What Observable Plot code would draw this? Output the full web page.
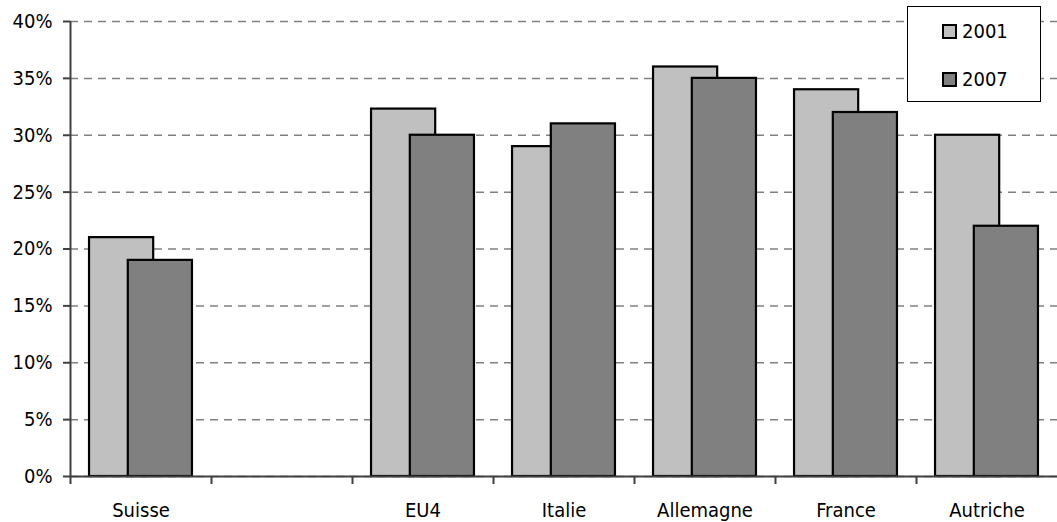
<!DOCTYPE html>
<html>
<head>
<meta charset="utf-8">
<script src="https://cdn.jsdelivr.net/npm/d3@7"></script>
<script src="https://cdn.jsdelivr.net/npm/@observablehq/plot@0.6"></script>
<style>
  html, body { margin: 0; padding: 0; background: #fff; }
  #wrap { position: relative; width: 1057px; height: 522px; font-family: "DejaVu Sans Condensed", "DejaVu Sans", sans-serif; }
  #legend { position: absolute; left: 907px; top: 6px; width: 132px; height: 94px; border: 1px solid #000; background: #fff; font-size: 20px; color: #000; }
  .item { position: absolute; left: 34px; display: flex; align-items: center; }
  .sw { width: 11px; height: 11px; border: 2px solid #000; margin-right: 5px; }
</style>
</head>
<body>
<div id="wrap"></div>
<script>
const categories = ["Suisse", " ", "EU4", "Italie", "Allemagne", "France", "Autriche"];
const series = ["2001", "2007"];
const values2001 = [0.21, null, 0.323, 0.29, 0.36, 0.34, 0.30];
const values2007 = [0.19, null, 0.30, 0.31, 0.35, 0.32, 0.22];
const yTicks = [0, 0.05, 0.10, 0.15, 0.20, 0.25, 0.30, 0.35, 0.40];
const colors = ["#c0c0c0", "#808080"];

const rows2001 = categories.map((c, i) => ({category: c, value: values2001[i]})).filter(d => d.value != null);
const rows2007 = categories.map((c, i) => ({category: c, value: values2007[i]})).filter(d => d.value != null);

const W = 1057, ML = 70, MR = 0;
const band = (W - ML - MR) / categories.length;

const chart = Plot.plot({
  width: W, height: 522,
  marginLeft: ML, marginRight: MR, marginTop: 21, marginBottom: 46,
  style: {fontFamily: "DejaVu Sans Condensed", fontSize: "20px", color: "#000", background: "#fff", overflow: "visible"},
  x: {type: "band", domain: categories, padding: 0, label: null},
  y: {domain: [0, 0.4], label: null},
  marks: [
    Plot.gridY(yTicks, {stroke: "#808080", strokeOpacity: 1, strokeWidth: 1.5, strokeDasharray: "8,6"}),
    Plot.barY(rows2001, {x: "category", y: "value", fill: colors[0], stroke: "#000", strokeWidth: 2.2, insetLeft: band * 0.135, insetRight: band * 0.41}),
    Plot.barY(rows2007, {x: "category", y: "value", fill: colors[1], stroke: "#000", strokeWidth: 2.2, insetLeft: band * 0.41, insetRight: band * 0.135}),
    Plot.ruleY([0], {stroke: "#404040", strokeWidth: 2}),
    Plot.ruleX([categories[0]], {dx: -band / 2, stroke: "#404040", strokeWidth: 2}),
    Plot.axisY(yTicks, {tickFormat: d3.format(".0%"), tickSize: 7, tickPadding: 11, stroke: "#404040", strokeWidth: 2, label: null}),
    Plot.axisX({tickSize: 0, tickPadding: 26, label: null}),
    Plot.axisX({tickSize: 8, tickFormat: () => "", dx: -band / 2, stroke: "#404040", strokeWidth: 2, label: null})
  ]
});
const wrap = document.getElementById("wrap");
wrap.appendChild(chart);

const legend = document.createElement("div");
legend.id = "legend";
series.forEach((s, i) => {
  const it = document.createElement("div");
  it.className = "item";
  it.style.top = (i === 0 ? 12 : 60) + "px";
  const sw = document.createElement("div");
  sw.className = "sw";
  sw.style.background = colors[i];
  const t = document.createElement("span");
  t.textContent = s;
  it.appendChild(sw);
  it.appendChild(t);
  legend.appendChild(it);
});
wrap.appendChild(legend);
</script>
</body>
</html>
